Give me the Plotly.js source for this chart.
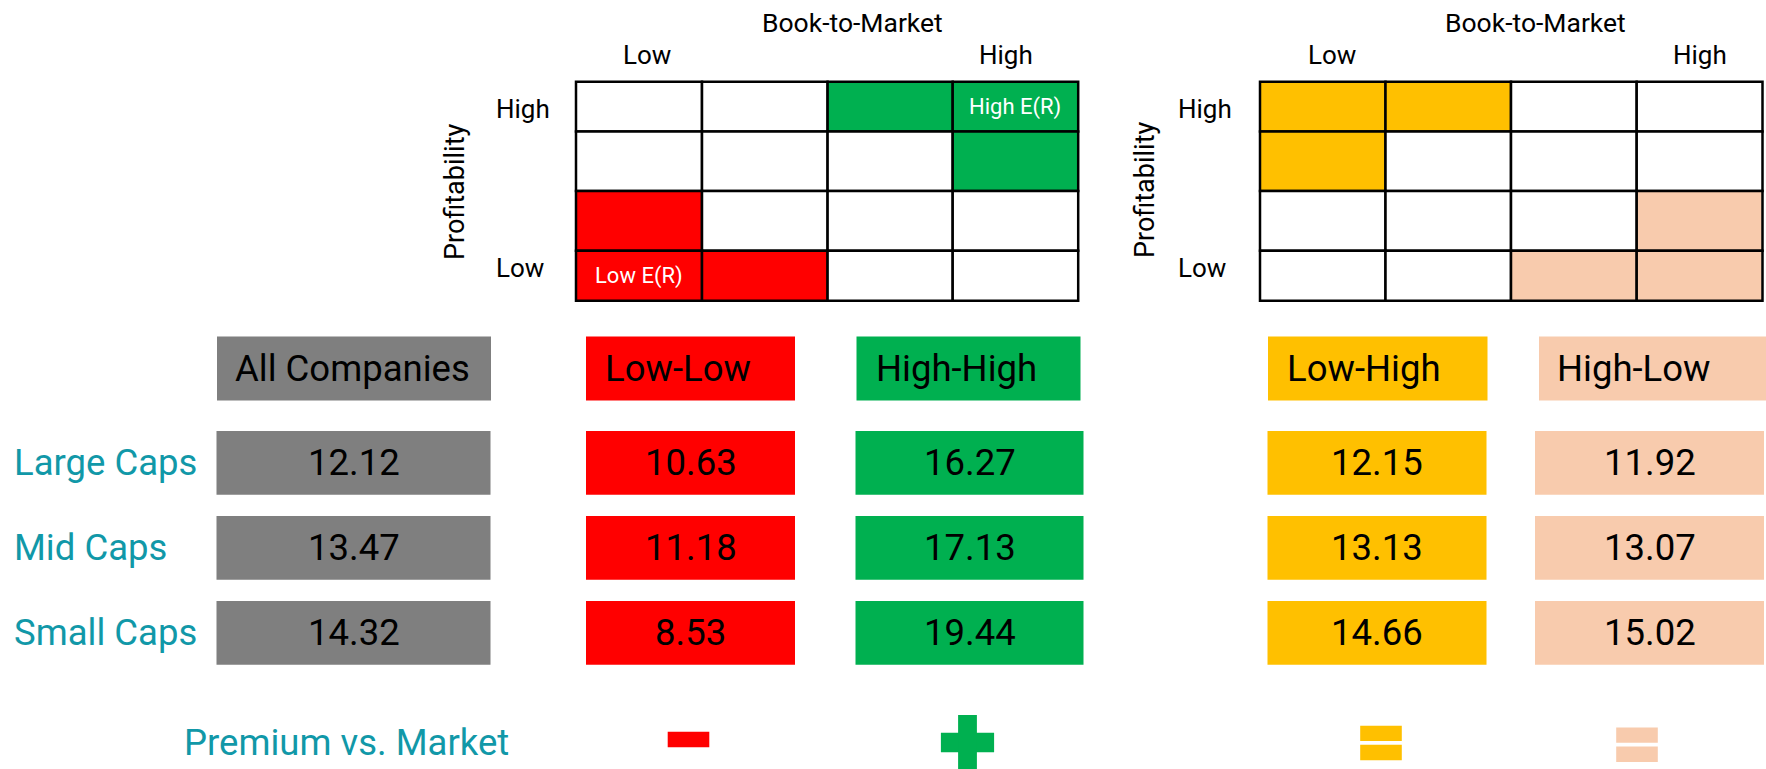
<!DOCTYPE html>
<html><head><meta charset="utf-8">
<script src="https://cdn.plot.ly/plotly-3.0.1.min.js"></script>
<style>html,body{margin:0;padding:0;background:#fff;}#chart{width:1766px;height:769px;}</style>
</head><body><div id="chart"></div>
<script>
// ---------------- data ----------------
const bmLabels = ["Low", "High"];
const profLabels = ["High", "Low"];
const axisTitleBM = "Book-to-Market";
const axisTitleProf = "Profitability";
// 0 = white, 1 = green, 2 = red, 3 = gold, 4 = peach
const grid1Cells = [[0,0,1,1],[0,0,0,1],[2,0,0,0],[2,2,0,0]];
const grid2Cells = [[3,3,0,0],[3,0,0,0],[0,0,0,4],[0,0,4,4]];
const grid1Notes = [{row:0, col:3, text:"High E(R)"}, {row:3, col:0, text:"Low E(R)"}];
const capLabels = ["Large Caps", "Mid Caps", "Small Caps"];
const groupNames = ["All Companies", "Low-Low", "High-High", "Low-High", "High-Low"];
const allCompanies = [12.12, 13.47, 14.32];
const lowLow = [10.63, 11.18, 8.53];
const highHigh = [16.27, 17.13, 19.44];
const lowHigh = [12.15, 13.13, 14.66];
const highLow = [11.92, 13.07, 15.02];
const premiumSigns = [null, "minus", "plus", "equal", "equal"];
const premiumLabel = "Premium vs. Market";

// ---------------- styles / layout geometry ----------------
const seriesValues = [allCompanies, lowLow, highHigh, lowHigh, highLow];
const cellPalette = ["#FFFFFF", "#00B050", "#FF0000", "#FFC000", "#F8CBAD"];
const groupColors = ["#7F7F7F", "#FF0000", "#00B050", "#FFC000", "#F8CBAD"];
const teal = "#1198A8";
const FONT = "Roboto, 'Open Sans', sans-serif";
const BIG = 36.5;

const gridRowEdges = [81.7, 131.5, 191, 250.7, 300.7];
const grids = [
  {cells: grid1Cells, notes: grid1Notes, colEdges: [576, 702, 827.6, 952.7, 1078.2],
   title: [852, 22], low: [647, 55], high: [1006, 55], rowLabX: 494, prof: [455, 192]},
  {cells: grid2Cells, notes: [], colEdges: [1260, 1385.5, 1511, 1636.7, 1762.5],
   title: [1535, 22], low: [1332, 55], high: [1700, 55], rowLabX: 1176, prof: [1145, 190]}
];
const rowLabY = [109, 268];

const groupBoxes = [
  {hx: [217, 491], dx: [216.5, 490.5], tx: 352, ix: null, iy: null},
  {hx: [586, 795], dx: [586, 795], tx: 678, ix: 688.5, iy: 739.5},
  {hx: [856.5, 1080.5], dx: [855.5, 1083.5], tx: 956, ix: 967.5, iy: 742.5},
  {hx: [1268, 1487.5], dx: [1267.5, 1486.5], tx: 1364, ix: 1381, iy: 743},
  {hx: [1539, 1766], dx: [1535, 1764], tx: 1634, ix: 1637, iy: 744.7}
];
const headerY = [336.5, 400.5];
const dataTop0 = 431, rowStep = 85, boxH = 63.8;
const rowLabelX = 12;
const premiumPos = [182, 742];

const shapes = [];
const annotations = [];

function rect(x0, y0, x1, y1, fill, lineW) {
  shapes.push({type: "rect", xref: "x", yref: "y", x0, y0, x1, y1,
    fillcolor: fill, line: {color: "#000", width: lineW || 0}, layer: "above"});
}
function text(x, y, t, size, color, xanchor, extra) {
  annotations.push(Object.assign({xref: "x", yref: "y", x, y, text: t, showarrow: false,
    xanchor: xanchor || "center", yanchor: "middle",
    font: {family: FONT, size, color}}, extra || {}));
}

// grids
grids.forEach(g => {
  g.cells.forEach((row, r) => row.forEach((c, k) => {
    rect(g.colEdges[k], gridRowEdges[r], g.colEdges[k + 1], gridRowEdges[r + 1], cellPalette[c], 2.5);
  }));
  g.notes.forEach(n => {
    text((g.colEdges[n.col] + g.colEdges[n.col + 1]) / 2,
         (gridRowEdges[n.row] + gridRowEdges[n.row + 1]) / 2, n.text, 22, "#FFFFFF");
  });
  text(g.title[0], g.title[1], axisTitleBM, 26.5, "#000");
  text(g.low[0], g.low[1], bmLabels[0], 26, "#000");
  text(g.high[0], g.high[1], bmLabels[1], 26, "#000");
  text(g.rowLabX, rowLabY[0], profLabels[0], 26, "#000", "left");
  text(g.rowLabX, rowLabY[1], profLabels[1], 26, "#000", "left");
  text(g.prof[0], g.prof[1], axisTitleProf, 27, "#000", "center", {textangle: -90});
});

// headers and value boxes
groupNames.forEach((name, gi) => {
  const b = groupBoxes[gi];
  rect(b.hx[0], headerY[0], b.hx[1], headerY[1], groupColors[gi]);
  text(b.tx, (headerY[0] + headerY[1]) / 2, name, BIG, "#000");
  seriesValues[gi].forEach((v, ri) => {
    const y0 = dataTop0 + ri * rowStep;
    rect(b.dx[0], y0, b.dx[1], y0 + boxH, groupColors[gi]);
    text((b.dx[0] + b.dx[1]) / 2, y0 + boxH / 2, v.toFixed(2), BIG, "#000");
  });
  // premium sign
  const s = premiumSigns[gi];
  const cx = b.ix, cy = b.iy, col = groupColors[gi];
  if (s === "minus") {
    rect(cx - 20.8, cy - 7.8, cx + 20.8, cy + 7.8, col);
  } else if (s === "plus") {
    rect(cx - 26.6, cy - 9.8, cx + 26.6, cy + 9.8, col);
    rect(cx - 9.4, cy - 27.5, cx + 9.4, cy + 27.5, col);
  } else if (s === "equal") {
    rect(cx - 20.8, cy - 17.2, cx + 20.8, cy - 1.9, col);
    rect(cx - 20.8, cy + 1.7, cx + 20.8, cy + 17.2, col);
  }
});

capLabels.forEach((lab, ri) => {
  text(rowLabelX, dataTop0 + ri * rowStep + boxH / 2, lab, BIG, teal, "left");
});
text(premiumPos[0], premiumPos[1], premiumLabel, BIG, teal, "left");

const layout = {
  width: 1766, height: 769,
  margin: {l: 0, r: 0, t: 0, b: 0},
  paper_bgcolor: "#FFFFFF", plot_bgcolor: "#FFFFFF",
  showlegend: false,
  xaxis: {range: [0, 1766], visible: false, showgrid: false, zeroline: false, fixedrange: true},
  yaxis: {range: [769, 0], visible: false, showgrid: false, zeroline: false, fixedrange: true},
  shapes, annotations
};
const data = [{type: "scatter", x: [], y: [], mode: "markers", hoverinfo: "skip", showlegend: false}];
Plotly.newPlot("chart", data, layout, {staticPlot: true, displayModeBar: false});
</script>
</body></html>
